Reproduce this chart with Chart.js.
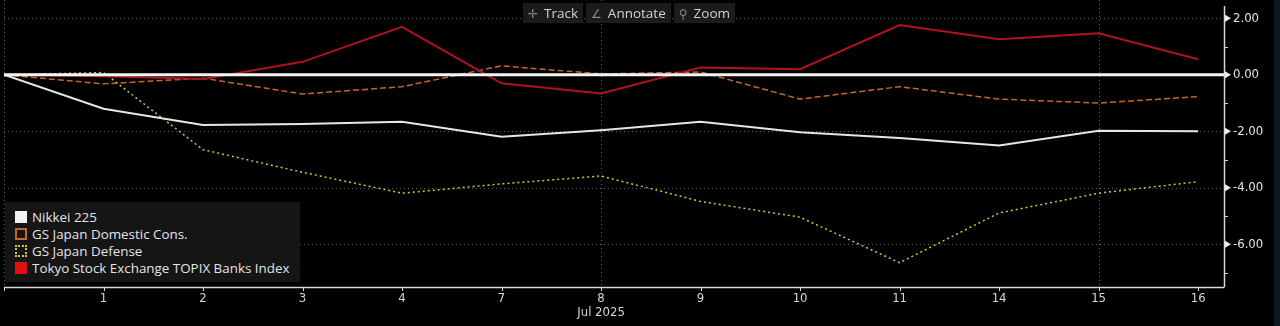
<!DOCTYPE html>
<html>
<head>
<meta charset="utf-8">
<script src="https://cdn.jsdelivr.net/npm/chart.js@4.4.1/dist/chart.umd.min.js"></script>
<style>
  html, body { margin:0; padding:0; background:#000; }
  #wrap { position:relative; width:1280px; height:326px; background:#000; overflow:hidden; }
  #c { position:absolute; left:0; top:0; }
  #strip { position:absolute; left:1274px; top:0; width:6px; height:326px; background:#0b1826; }
  #toolbar { position:absolute; left:523px; top:3px; height:20px; display:flex; gap:3px;
     font-family:"Open Sans", sans-serif; font-size:13.5px; color:#d2d2d2; }
  #toolbar div { background:#1b1b1b; padding:0 5px; line-height:20px; }
  #toolbar span.ic { color:#8a8a8a; margin-right:6px; font-family:"DejaVu Sans"; font-size:12px; }
  #legend { position:absolute; left:5px; top:202px; width:295px; height:80px; background:#151515;
     font-family:"Open Sans", sans-serif; font-size:13.4px; color:#e4e4e4; }
  #legend .it { position:absolute; left:10px; height:17px; line-height:17px; white-space:nowrap; }
  #legend .sw { display:inline-block; width:12px; height:12px; vertical-align:-1px; margin-right:5px; box-sizing:border-box; }
</style>
</head>
<body>
<div id="wrap">
  <canvas id="c" width="1280" height="326"></canvas>
  <div id="strip"></div>
  <div id="toolbar">
    <div><span class="ic">✛</span>Track</div>
    <div><span class="ic">∠</span>Annotate</div>
    <div><span class="ic">⚲</span>Zoom</div>
  </div>
  <div id="legend"></div>
</div>
<script>
// ---- data ----
const dayLabels = ['', '1', '2', '3', '4', '7', '8', '9', '10', '11', '14', '15', '16'];
const monthLabel = 'Jul 2025';
const seriesNames = ['Nikkei 225', 'GS Japan Domestic Cons.', 'GS Japan Defense', 'Tokyo Stock Exchange TOPIX Banks Index'];
const nikkei   = [0, -1.20, -1.78, -1.74, -1.66, -2.19, -1.96, -1.66, -2.03, -2.24, -2.50, -1.98, -2.00];
const domestic = [0, -0.32, -0.12, -0.68, -0.42,  0.32,  0.03,  0.10, -0.86, -0.42, -0.86, -1.00, -0.77];
const defense  = [0,  0.08, -2.65, -3.45, -4.19, -3.86, -3.58, -4.48, -5.04, -6.65, -4.89, -4.19, -3.78];
const banks    = [0, -0.05, -0.15,  0.46,  1.70, -0.30, -0.66,  0.26,  0.20,  1.76,  1.26,  1.47,  0.55];
const yTickValues = [2, 0, -2, -4, -6];
const vGridAt = [0, 6, 11];

const toPts = arr => arr.map((v, i) => ({x: i, y: v}));

const styles = [
  {color:'#e6e6e6', width:2, dash:[]},
  {color:'#c8642d', width:1.5, dash:[6,3]},
  {color:'#c9c93a', width:1.5, dash:[2,3]},
  {color:'#b0121f', width:2, dash:[]}
];
const allSeries = [nikkei, domestic, defense, banks];

// legend (HTML)
const legendSw = [
  'background:#f2f2f2;',
  'border:2px dashed #c8642d;',
  'border:2px dotted #c9c93a;',
  'background:#e01010;'
];
const lg = document.getElementById('legend');
seriesNames.forEach((n, i) => {
  const d = document.createElement('div');
  d.className = 'it';
  d.style.top = (7 + i * 17) + 'px';
  d.innerHTML = '<span class="sw" style="' + legendSw[i] + '"></span>' + n;
  lg.appendChild(d);
});

const tickFont = {family:'"DejaVu Sans Condensed", "DejaVu Sans", sans-serif', size:13};

const decor = {
  id:'decor',
  beforeDatasetsDraw(chart) {
    const {ctx, chartArea:a, scales:{x, y}} = chart;
    ctx.save();
    ctx.strokeStyle = '#5c5c5c';
    ctx.lineWidth = 1;
    ctx.setLineDash([1, 3]);
    yTickValues.forEach(v => {
      if (v === 0) return;
      const py = Math.round(y.getPixelForValue(v)) + 0.5;
      ctx.beginPath(); ctx.moveTo(a.left, py); ctx.lineTo(a.right, py); ctx.stroke();
    });
    vGridAt.forEach(v => {
      const px = Math.round(x.getPixelForValue(v)) + 0.5;
      ctx.beginPath(); ctx.moveTo(px, a.top); ctx.lineTo(px, a.bottom); ctx.stroke();
    });
    ctx.restore();
  },
  afterDatasetsDraw(chart) {
    const {ctx, chartArea:a, scales:{x, y}} = chart;
    ctx.save();
    const y0 = y.getPixelForValue(0);
    ctx.strokeStyle = '#f4f4f4'; ctx.lineWidth = 3;
    ctx.beginPath(); ctx.moveTo(a.left, y0); ctx.lineTo(a.right, y0); ctx.stroke();
    ctx.strokeStyle = '#d8d8d8'; ctx.lineWidth = 1.5;
    ctx.beginPath(); ctx.moveTo(a.right + 0.5, a.top + 6); ctx.lineTo(a.right + 0.5, a.bottom); ctx.stroke();
    ctx.beginPath(); ctx.moveTo(a.left, a.bottom + 0.5); ctx.lineTo(a.right + 0.5, a.bottom + 0.5); ctx.stroke();
    ctx.lineWidth = 1;
    for (let i = 0; i < dayLabels.length; i++) {
      const px = Math.round(x.getPixelForValue(i)) + 0.5;
      ctx.beginPath(); ctx.moveTo(px, a.bottom); ctx.lineTo(px, a.bottom + 4); ctx.stroke();
    }
    ctx.fillStyle = '#f0f0f0';
    for (let v = Math.ceil(y.min); v <= Math.floor(y.max); v++) {
      const py = y.getPixelForValue(v);
      if (v % 2 === 0) {
        ctx.beginPath(); ctx.moveTo(a.right + 1, py - 3.5); ctx.lineTo(a.right + 7, py); ctx.lineTo(a.right + 1, py + 3.5); ctx.closePath(); ctx.fill();
      } else {
        ctx.beginPath(); ctx.moveTo(a.right, Math.round(py) + 0.5); ctx.lineTo(a.right + 4, Math.round(py) + 0.5); ctx.stroke();
      }
    }
    ctx.fillStyle = '#d6d6d6';
    ctx.font = '13px "DejaVu Sans Condensed", "DejaVu Sans", sans-serif';
    ctx.textAlign = 'center'; ctx.textBaseline = 'middle';
    ctx.fillText(monthLabel, x.getPixelForValue(6), 313);
    ctx.restore();
  }
};

new Chart(document.getElementById('c'), {
  type:'line',
  data:{
    datasets: allSeries.map((arr, i) => ({
      label: seriesNames[i],
      data: toPts(arr),
      borderColor: styles[i].color,
      borderWidth: styles[i].width,
      borderDash: styles[i].dash,
      pointRadius: 0,
      tension: 0,
      fill: false,
      order: 4 - i
    }))
  },
  options:{
    responsive:false,
    animation:false,
    layout:{padding:{left:4, top:0, right:0, bottom:0}},
    plugins:{legend:{display:false}, tooltip:{enabled:false}},
    scales:{
      x:{
        type:'linear', min:0, max:12.26,
        afterBuildTicks: s => { s.ticks = dayLabels.map((_, i) => ({value:i})); },
        afterFit: s => { s.height = 39; s.paddingLeft = 0; s.paddingRight = 0; },
        grid:{display:false, drawTicks:false},
        border:{display:false},
        ticks:{autoSkip:false, maxRotation:0, padding:4, color:'#d6d6d6', font:tickFont,
               callback: v => dayLabels[v] ?? ''}
      },
      y:{
        type:'linear', position:'right', min:-7.51, max:2.648,
        afterBuildTicks: s => { s.ticks = yTickValues.map(v => ({value:v})); },
        afterFit: s => { s.width = 56; s.paddingTop = 0; s.paddingBottom = 0; },
        grid:{display:false, drawTicks:false},
        border:{display:false},
        ticks:{padding:9, color:'#e2e2e2', font:tickFont, crossAlign:'near',
               callback: v => v.toFixed(2)}
      }
    }
  },
  plugins:[decor]
});
</script>
</body>
</html>
